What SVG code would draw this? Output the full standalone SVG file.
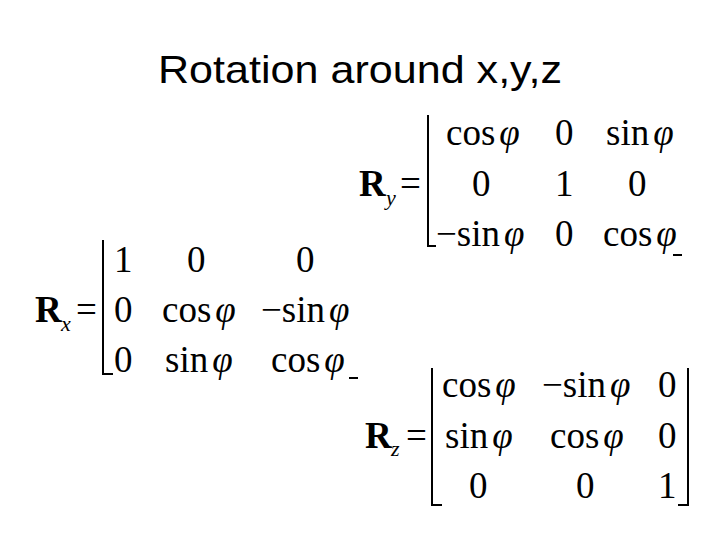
<svg xmlns="http://www.w3.org/2000/svg" width="720" height="540" viewBox="0 0 720 540">
<style>
.t{font-family:"Liberation Sans",Arial,sans-serif;font-size:39px;fill:#000}
.m{font-family:"Liberation Serif","Times New Roman",serif;font-size:37px;fill:#000}
.b{font-weight:bold}
.i{font-style:italic}
.s{font-family:"Liberation Serif","Times New Roman",serif;font-size:22px;font-style:italic}
.br{fill:none;stroke:#000;stroke-width:2}
</style>
<rect width="720" height="540" fill="#fff"/>
<text class="t" x="158" y="83" textLength="404" lengthAdjust="spacingAndGlyphs">Rotation around x,y,z</text>
<g id="Ry" class="m">
<text x="359" y="196" class="b">R</text><text x="386" y="205" class="s">y</text>
<text x="400" y="196">=</text>
<path class="br" d="M428,115 V246 H436"/>
<text x="446" y="145">cos<tspan class="i" dx="4">φ</tspan></text><text x="555" y="145">0</text><text x="606" y="145">sin<tspan class="i" dx="4">φ</tspan></text>
<text x="472" y="196">0</text><text x="555" y="196">1</text><text x="628" y="196">0</text>
<text x="436" y="246">−sin<tspan class="i" dx="4">φ</tspan></text><text x="555" y="246">0</text><text x="603" y="246">cos<tspan class="i" dx="4">φ</tspan></text>
<path class="br" d="M673,255 H682"/>
</g>
<g id="Rx" class="m">
<text x="35" y="322" class="b">R</text><text x="61" y="331" class="s">x</text>
<text x="76" y="322">=</text>
<path class="br" d="M103,240 V374 H113"/>
<text x="114" y="272">1</text><text x="187" y="272">0</text><text x="296" y="272">0</text>
<text x="114" y="322">0</text><text x="162" y="322">cos<tspan class="i" dx="4">φ</tspan></text><text x="261" y="322">−sin<tspan class="i" dx="4">φ</tspan></text>
<text x="114" y="372">0</text><text x="165" y="372">sin<tspan class="i" dx="4">φ</tspan></text><text x="271" y="372">cos<tspan class="i" dx="4">φ</tspan></text>
<path class="br" d="M349,378 H358"/>
</g>
<g id="Rz" class="m">
<text x="365" y="448" class="b">R</text><text x="391" y="456" class="s">z</text>
<text x="406" y="448">=</text>
<path class="br" d="M432,368 V505 H442"/>
<path class="br" d="M688,368 V505 H678"/>
<text x="442" y="397">cos<tspan class="i" dx="4">φ</tspan></text><text x="542" y="397">−sin<tspan class="i" dx="4">φ</tspan></text><text x="658" y="397">0</text>
<text x="445" y="448">sin<tspan class="i" dx="4">φ</tspan></text><text x="550" y="448">cos<tspan class="i" dx="4">φ</tspan></text><text x="658" y="448">0</text>
<text x="469" y="498">0</text><text x="576" y="498">0</text><text x="658" y="498">1</text>
</g>
</svg>
